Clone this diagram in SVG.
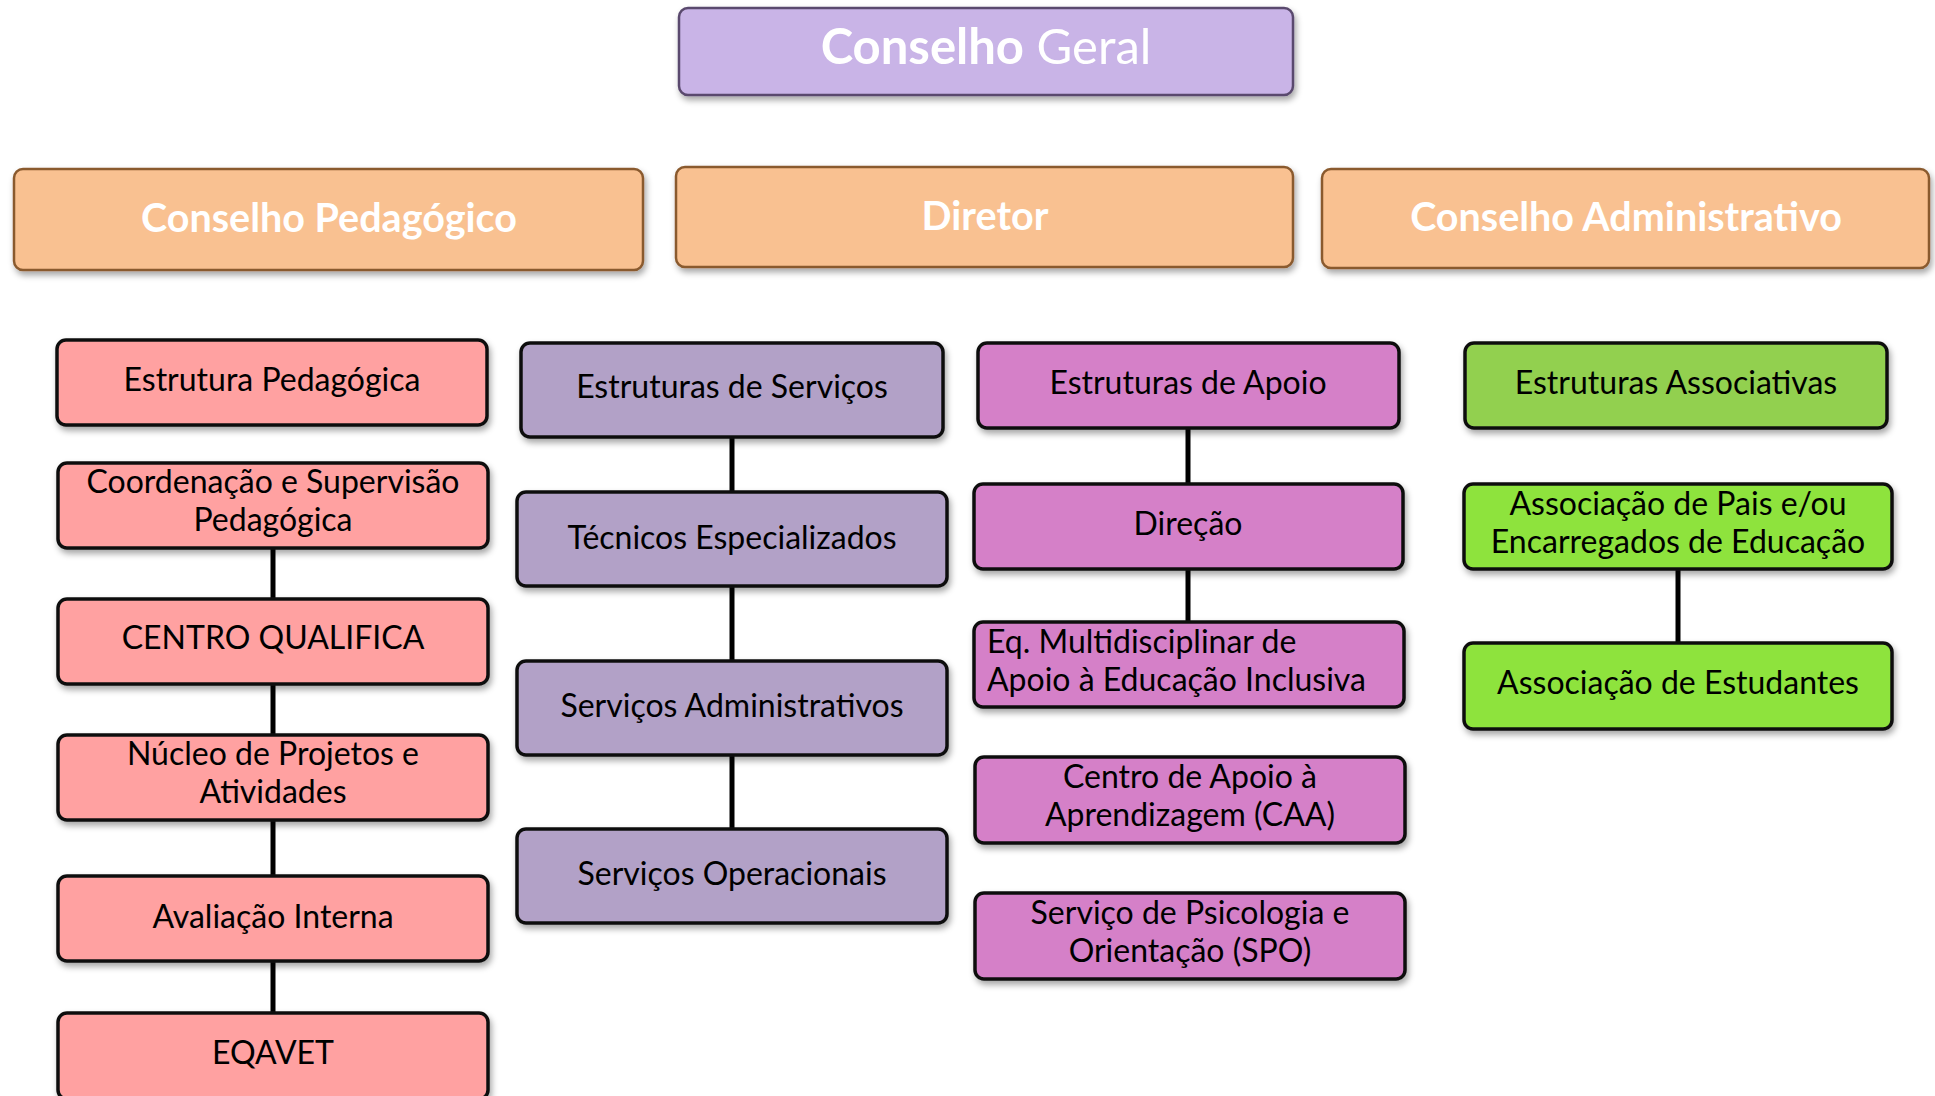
<svg xmlns="http://www.w3.org/2000/svg" width="1935" height="1096" viewBox="0 0 1935 1096">
<defs>
<filter id="sh" x="-5%" y="-10%" width="110%" height="130%">
<feDropShadow dx="2" dy="4" stdDeviation="3" flood-color="#000" flood-opacity="0.35"/>
</filter>
</defs>
<style>
.head rect{fill:#F9C191;stroke:#8A5A2E;stroke-width:2.5;filter:url(#sh)}
.top rect{fill:#C9B4E7;stroke:#5A4A6E;stroke-width:2.5;filter:url(#sh)}
.ht{font-family:Lato,"Liberation Sans",sans-serif;font-weight:bold;fill:#fff;text-anchor:middle}
.box rect{stroke:#111;stroke-width:3.5;filter:url(#sh)}
.pk rect{fill:#FFA1A1}
.pu rect{fill:#B2A1C7}
.mg rect{fill:#D580C8}
.g1 rect{fill:#92D050}
.g2 rect{fill:#8EE33E}
.t{font-family:Lato,"Liberation Sans",sans-serif;font-size:32px;fill:#000;text-anchor:middle}
.tl{text-anchor:start}
#connectors line{stroke:#000;stroke-width:5}
</style>
<rect width="1935" height="1096" fill="#fff"/>

<g id="connectors">
<line x1="273" y1="547" x2="273" y2="600"/>
<line x1="273" y1="683" x2="273" y2="736"/>
<line x1="273" y1="820" x2="273" y2="877"/>
<line x1="273" y1="961" x2="273" y2="1014"/>
<line x1="732" y1="437" x2="732" y2="493"/>
<line x1="732" y1="586" x2="732" y2="662"/>
<line x1="732" y1="755" x2="732" y2="830"/>
<line x1="1188" y1="428" x2="1188" y2="485"/>
<line x1="1188" y1="569" x2="1188" y2="622"/>
<line x1="1678" y1="569" x2="1678" y2="644"/>
</g>

<g id="conselho-geral" class="top">
<rect x="679" y="8" width="614" height="87" rx="9"/>
<text class="ht" x="986" y="64" font-size="49"><tspan font-weight="bold">Conselho</tspan><tspan font-weight="normal"> Geral</tspan></text>
</g>
<g id="conselho-pedagogico" class="head">
<rect x="14" y="169" width="629" height="101" rx="9"/>
<text class="ht" x="329" y="232" font-size="39.5">Conselho Pedagógico</text>
</g>
<g id="diretor" class="head">
<rect x="676" y="167" width="617" height="100" rx="9"/>
<text class="ht" x="985" y="230" font-size="39.5">Diretor</text>
</g>
<g id="conselho-administrativo" class="head">
<rect x="1322" y="169" width="607" height="99" rx="9"/>
<text class="ht" x="1626" y="231" font-size="39.5">Conselho Administrativo</text>
</g>

<g id="estrutura-pedagogica" class="box pk">
<rect x="57" y="340" width="430" height="85" rx="9"/>
<text class="t" x="272" y="391">Estrutura Pedagógica</text>
</g>
<g id="coordenacao" class="box pk">
<rect x="58" y="463" width="430" height="85" rx="9"/>
<text class="t" x="273" y="493">Coordenação e Supervisão</text>
<text class="t" x="273" y="531">Pedagógica</text>
</g>
<g id="centro-qualifica" class="box pk">
<rect x="58" y="599" width="430" height="85" rx="9"/>
<text class="t" x="273" y="649">CENTRO QUALIFICA</text>
</g>
<g id="nucleo" class="box pk">
<rect x="58" y="735" width="430" height="85" rx="9"/>
<text class="t" x="273" y="765">Núcleo de Projetos e</text>
<text class="t" x="273" y="803">Atividades</text>
</g>
<g id="avaliacao" class="box pk">
<rect x="58" y="876" width="430" height="85" rx="9"/>
<text class="t" x="273" y="928">Avaliação Interna</text>
</g>
<g id="eqavet" class="box pk">
<rect x="58" y="1013" width="430" height="86" rx="9"/>
<text class="t" x="273" y="1064">EQAVET</text>
</g>

<g id="estruturas-servicos" class="box pu">
<rect x="521" y="343" width="422" height="94" rx="9"/>
<text class="t" x="732" y="398">Estruturas de Serviços</text>
</g>
<g id="tecnicos" class="box pu">
<rect x="517" y="492" width="430" height="94" rx="9"/>
<text class="t" x="732" y="549">Técnicos Especializados</text>
</g>
<g id="servicos-administrativos" class="box pu">
<rect x="517" y="661" width="430" height="94" rx="9"/>
<text class="t" x="732" y="717">Serviços Administrativos</text>
</g>
<g id="servicos-operacionais" class="box pu">
<rect x="517" y="829" width="430" height="94" rx="9"/>
<text class="t" x="732" y="885">Serviços Operacionais</text>
</g>

<g id="estruturas-apoio" class="box mg">
<rect x="978" y="343" width="421" height="85" rx="9"/>
<text class="t" x="1188" y="394">Estruturas de Apoio</text>
</g>
<g id="direcao" class="box mg">
<rect x="974" y="484" width="429" height="85" rx="9"/>
<text class="t" x="1188" y="535">Direção</text>
</g>
<g id="eq-multidisciplinar" class="box mg">
<rect x="974" y="622" width="430" height="85" rx="9"/>
<text class="t tl" x="987" y="653">Eq. Multidisciplinar de</text>
<text class="t tl" x="987" y="691">Apoio à Educação Inclusiva</text>
</g>
<g id="caa" class="box mg">
<rect x="975" y="757" width="430" height="86" rx="9"/>
<text class="t" x="1190" y="788">Centro de Apoio à</text>
<text class="t" x="1190" y="826">Aprendizagem (CAA)</text>
</g>
<g id="spo" class="box mg">
<rect x="975" y="893" width="430" height="86" rx="9"/>
<text class="t" x="1190" y="924">Serviço de Psicologia e</text>
<text class="t" x="1190" y="962">Orientação (SPO)</text>
</g>

<g id="estruturas-associativas" class="box g1">
<rect x="1465" y="343" width="422" height="85" rx="9"/>
<text class="t" x="1676" y="394">Estruturas Associativas</text>
</g>
<g id="associacao-pais" class="box g2">
<rect x="1464" y="484" width="428" height="85" rx="9"/>
<text class="t" x="1678" y="515">Associação de Pais e/ou</text>
<text class="t" x="1678" y="553">Encarregados de Educação</text>
</g>
<g id="associacao-estudantes" class="box g2">
<rect x="1464" y="643" width="428" height="86" rx="9"/>
<text class="t" x="1678" y="694">Associação de Estudantes</text>
</g>
</svg>
